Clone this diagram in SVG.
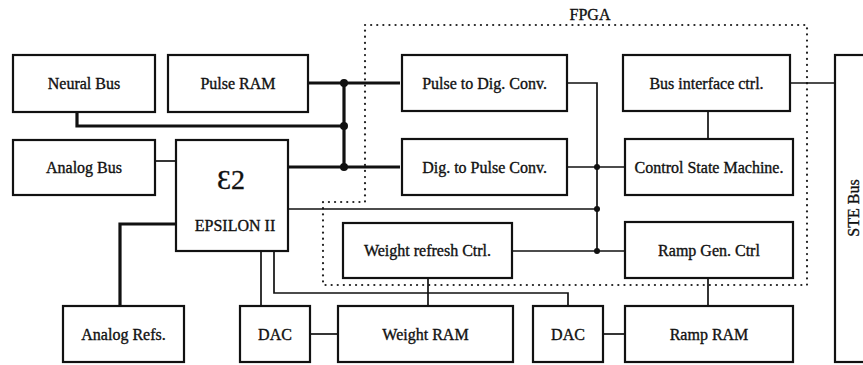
<svg xmlns="http://www.w3.org/2000/svg" width="863" height="365" viewBox="0 0 863 365">
<style>
.box{fill:none;stroke:#111;stroke-width:2.2}
.t{font-family:"Liberation Serif","Times New Roman",serif;font-size:16px;fill:#111;stroke:#111;stroke-width:0.35;text-anchor:middle}
.w{fill:none;stroke:#111;stroke-width:1.7}
.bus{fill:none;stroke:#111;stroke-width:3.2}
.dot{fill:#111}
.fpga{fill:none;stroke:#222;stroke-width:2.2;stroke-dasharray:0.1 6;stroke-linecap:round}
</style>
<rect width="863" height="365" fill="#fff"/>
<g id="fpga">
<path class="fpga" d="M365 25H807V285H323V202H365Z"/>
<text class="t" x="590" y="20">FPGA</text>
</g>
<g id="connectors">
<path class="bus" d="M308 83H400"/>
<path class="bus" d="M77 112V126H344"/>
<path class="bus" d="M288 167H400"/>
<path class="bus" d="M344 83V167"/>
<path class="bus" d="M176 224H120V306"/>
<path class="w" d="M155 161H176"/>
<path class="w" d="M567 83H597V251"/>
<path class="w" d="M567 167H625"/>
<path class="w" d="M288 209H597"/>
<path class="w" d="M512 251H625"/>
<path class="w" d="M708 111V139"/>
<path class="w" d="M790 83H835"/>
<path class="w" d="M261 251V306"/>
<path class="w" d="M274 251V293H568V306"/>
<path class="w" d="M428 278V306"/>
<path class="w" d="M310 334H338"/>
<path class="w" d="M603 334H625"/>
<path class="w" d="M708 278V306"/>
<circle class="dot" cx="344" cy="83" r="4"/>
<circle class="dot" cx="344" cy="126" r="4"/>
<circle class="dot" cx="344" cy="167" r="4"/>
<circle class="dot" cx="597" cy="167" r="3"/>
<circle class="dot" cx="597" cy="209" r="3"/>
<circle class="dot" cx="597" cy="251" r="3"/>
</g>
<g id="neural-bus"><rect class="box" x="13" y="55" width="142" height="57"/><text class="t" x="84" y="89">Neural Bus</text></g>
<g id="pulse-ram"><rect class="box" x="168" y="55" width="140" height="57"/><text class="t" x="238" y="89">Pulse RAM</text></g>
<g id="analog-bus"><rect class="box" x="13" y="140" width="142" height="55"/><text class="t" x="84" y="173">Analog Bus</text></g>
<g id="epsilon"><rect class="box" x="176" y="140" width="112" height="111"/><text class="t" x="231" y="189" style="font-size:28px">Ɛ2</text><text class="t" x="235" y="231">EPSILON II</text></g>
<g id="pulse-to-dig"><rect class="box" x="402" y="55" width="165" height="56"/><text class="t" x="484.5" y="89">Pulse to Dig. Conv.</text></g>
<g id="bus-interface"><rect class="box" x="623" y="55" width="167" height="56"/><text class="t" x="706.5" y="89">Bus interface ctrl.</text></g>
<g id="dig-to-pulse"><rect class="box" x="402" y="139" width="165" height="56"/><text class="t" x="484.5" y="173">Dig. to Pulse Conv.</text></g>
<g id="control-sm"><rect class="box" x="625" y="139" width="168" height="56"/><text class="t" x="709" y="173">Control State Machine.</text></g>
<g id="weight-refresh"><rect class="box" x="343" y="223" width="169" height="55"/><text class="t" x="427.5" y="256">Weight refresh Ctrl.</text></g>
<g id="ramp-gen"><rect class="box" x="625" y="222" width="168" height="56"/><text class="t" x="709" y="256">Ramp Gen. Ctrl</text></g>
<g id="analog-refs"><rect class="box" x="63" y="306" width="121" height="56"/><text class="t" x="123.5" y="340">Analog Refs.</text></g>
<g id="dac1"><rect class="box" x="240" y="306" width="70" height="56"/><text class="t" x="275" y="340">DAC</text></g>
<g id="weight-ram"><rect class="box" x="338" y="306" width="175" height="56"/><text class="t" x="425.5" y="340">Weight RAM</text></g>
<g id="dac2"><rect class="box" x="533" y="306" width="70" height="56"/><text class="t" x="568" y="340">DAC</text></g>
<g id="ramp-ram"><rect class="box" x="625" y="306" width="168" height="56"/><text class="t" x="709" y="340">Ramp RAM</text></g>
<g id="ste-bus"><rect class="box" x="835" y="55" width="40" height="307"/><text class="t" transform="translate(859 208) rotate(-90)">STE Bus</text></g>
</svg>
